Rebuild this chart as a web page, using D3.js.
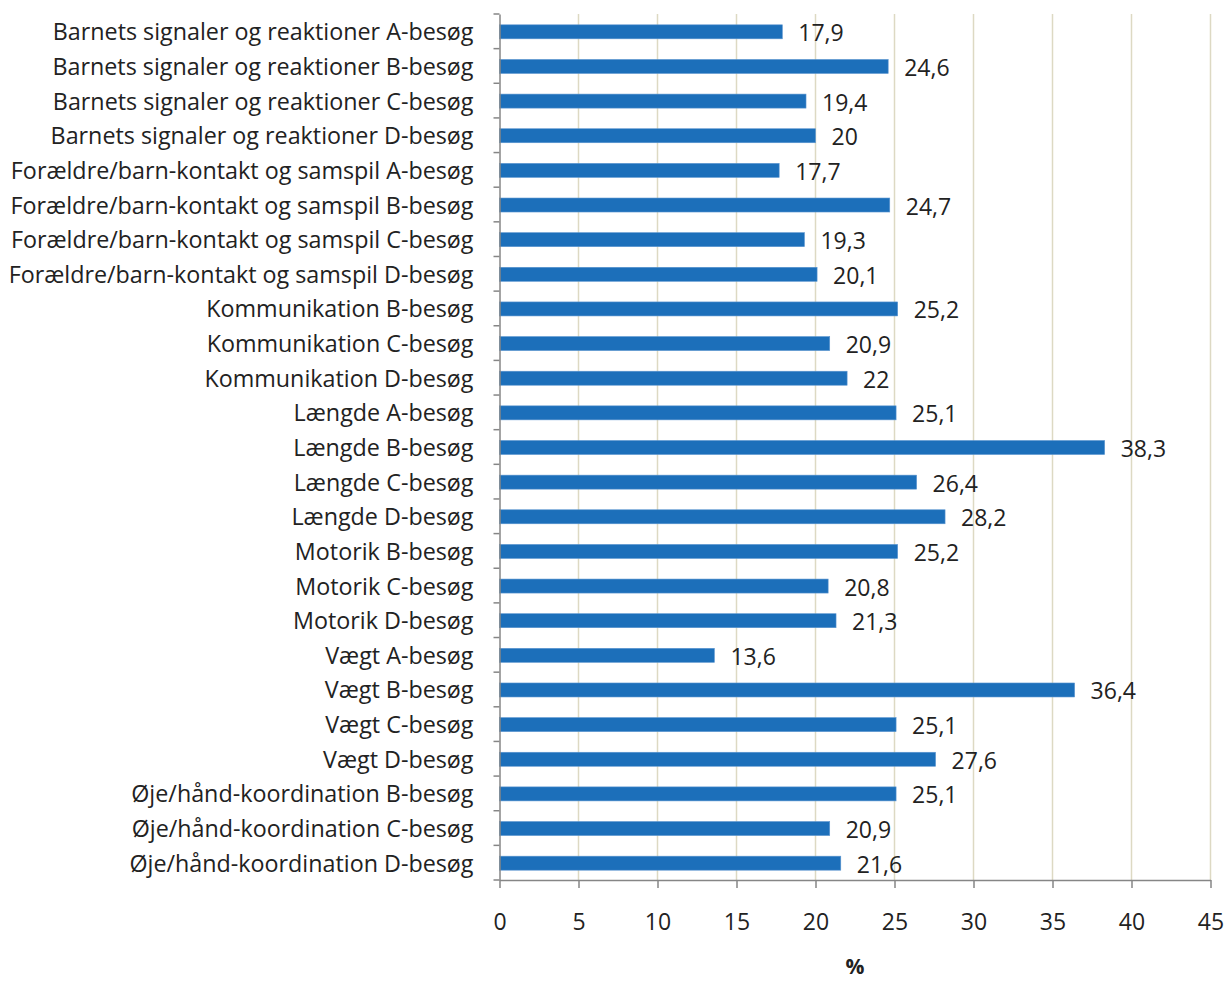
<!DOCTYPE html>
<html>
<head>
<meta charset="utf-8">
<script src="https://cdn.jsdelivr.net/npm/d3@7"></script>
<style>
  body { margin: 0; background: #fff; }
  text { font-family: "Open Sans", "DejaVu Sans", sans-serif; fill: #222; }
</style>
</head>
<body>
<script>
'use strict';

// categories, top to bottom
const categories = [
    "Barnets signaler og reaktioner A-besøg",
    "Barnets signaler og reaktioner B-besøg",
    "Barnets signaler og reaktioner C-besøg",
    "Barnets signaler og reaktioner D-besøg",
    "Forældre/barn-kontakt og samspil A-besøg",
    "Forældre/barn-kontakt og samspil B-besøg",
    "Forældre/barn-kontakt og samspil C-besøg",
    "Forældre/barn-kontakt og samspil D-besøg",
    "Kommunikation B-besøg",
    "Kommunikation C-besøg",
    "Kommunikation D-besøg",
    "Længde A-besøg",
    "Længde B-besøg",
    "Længde C-besøg",
    "Længde D-besøg",
    "Motorik B-besøg",
    "Motorik C-besøg",
    "Motorik D-besøg",
    "Vægt A-besøg",
    "Vægt B-besøg",
    "Vægt C-besøg",
    "Vægt D-besøg",
    "Øje/hånd-koordination B-besøg",
    "Øje/hånd-koordination C-besøg",
    "Øje/hånd-koordination D-besøg"
];

const values = [17.9, 24.6, 19.4, 20, 17.7, 24.7, 19.3, 20.1, 25.2, 20.9, 22,
    25.1, 38.3, 26.4, 28.2, 25.2, 20.8, 21.3, 13.6, 36.4, 25.1, 27.6,
    25.1, 20.9, 21.6];

const xTicks = [0, 5, 10, 15, 20, 25, 30, 35, 40, 45];
const xTitle = "%";

const width = 1226, height = 983;
const margin = { top: 14, right: 15.5, bottom: 103, left: 499.5 };
const labelSize = "23.3px";
const numSize = "23px";

const svg = d3.select("body").append("svg")
    .attr("width", width)
    .attr("height", height);

let data = categories.map((c, i) => ({ name: c, value: values[i] }));

let xScale = d3.scaleLinear()
    .domain([0, 45])
    .range([margin.left, width - margin.right]);

let yScale = d3.scaleBand()
    .domain(categories)
    .range([margin.top, height - margin.bottom]);

const fmt = (v) => String(v).replace(".", ",");
const midY = (d) => yScale(d) + yScale.bandwidth() / 2;

// vertical gridlines
svg.append("g")
    .selectAll("line")
    .data(xTicks.filter(t => t > 0))
    .enter()
    .append("line")
    .attr("x1", d => xScale(d))
    .attr("x2", d => xScale(d))
    .attr("y1", margin.top)
    .attr("y2", height - margin.bottom)
    .attr("stroke", "#ddd9c3")
    .attr("stroke-width", 1.5);

// bars
let barH = 14;
svg.append("g")
    .selectAll("rect")
    .data(data)
    .enter()
    .append("rect")
    .attr("x", xScale(0))
    .attr("y", d => midY(d.name) - barH / 2 + 0.5)
    .attr("width", d => xScale(d.value) - xScale(0))
    .attr("height", barH)
    .attr("fill", "#1c6fba")
    .attr("stroke", "#5b95cf")
    .attr("stroke-width", 0.6);

// value labels
svg.append("g")
    .selectAll("text")
    .data(data)
    .enter()
    .append("text")
    .attr("x", d => xScale(d.value) + 16)
    .attr("y", d => midY(d.name) + 10)
    .style("font-size", numSize)
    .text(d => fmt(d.value));

// y axis (category labels)
let yAxis = d3.axisLeft(yScale).tickSize(0).tickPadding(26);
let gy = svg.append("g")
    .attr("transform", `translate(${margin.left}, 0)`)
    .call(yAxis);
gy.select(".domain").attr("stroke", "#868686").attr("stroke-width", 1.5);
gy.selectAll("text")
    .style("font-size", labelSize)
    .attr("dy", null)
    .attr("y", 9);

// y ticks at band boundaries
svg.append("g")
    .selectAll("line")
    .data(d3.range(categories.length + 1))
    .enter()
    .append("line")
    .attr("x1", margin.left - 6)
    .attr("x2", margin.left)
    .attr("y1", i => margin.top + i * yScale.step())
    .attr("y2", i => margin.top + i * yScale.step())
    .attr("stroke", "#868686")
    .attr("stroke-width", 1.5);

// x axis
let xAxis = d3.axisBottom(xScale)
    .tickValues(xTicks)
    .tickSize(8)
    .tickSizeOuter(0);
let gx = svg.append("g")
    .attr("transform", `translate(0, ${height - margin.bottom})`)
    .call(xAxis);
gx.select(".domain").attr("stroke", "#868686").attr("stroke-width", 1.5);
gx.selectAll(".tick line").attr("stroke", "#868686").attr("stroke-width", 1.5);
gx.selectAll("text")
    .style("font-size", numSize)
    .attr("fill", "#222")
    .attr("dy", null)
    .attr("y", 50);

// axis title
svg.append("text")
    .attr("x", 855)
    .attr("y", 974)
    .attr("text-anchor", "middle")
    .style("font-size", "21px")
    .style("font-weight", "bold")
    .text(xTitle);
</script>
</body>
</html>
